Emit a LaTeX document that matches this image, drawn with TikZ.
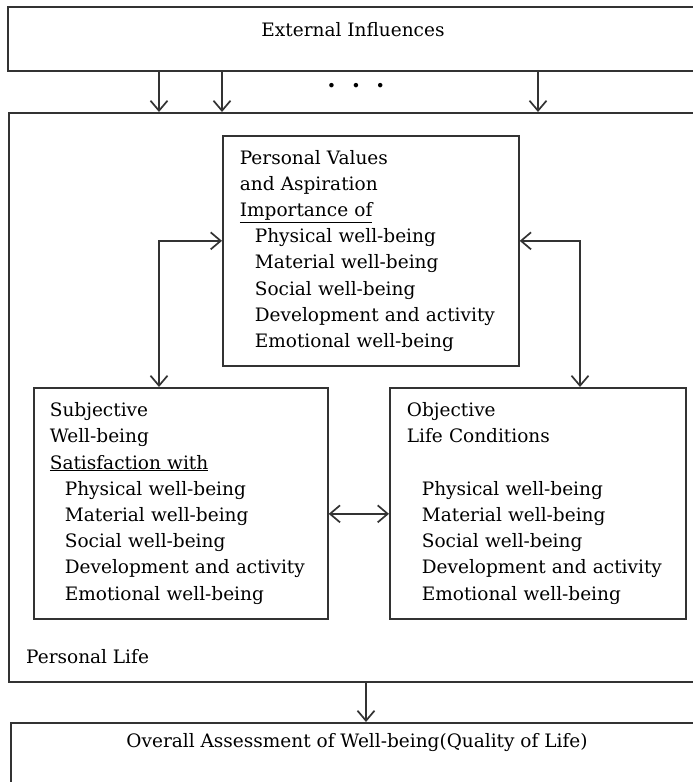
\documentclass[tikz,border=0pt]{standalone}
\usepackage{fontspec}
\setmainfont{DejaVu Serif}
\usetikzlibrary{arrows.meta}
\tikzset{
  ln/.style={draw=black!80, line width=1.7pt},
  bigbox/.style={ln, rectangle, anchor=north west, inner sep=0pt},
  txtbox/.style={ln, rectangle, anchor=north west, align=left, inner xsep=17pt, inner ysep=0pt,
     text width=262pt, font=\fontsize{18.5}{26.2}\selectfont},
  lbl/.style={inner sep=0pt, font=\fontsize{18.5}{26}\selectfont},
  arr/.style={ln, -{Straight Barb[length=10pt,width=17pt,line width=1.7pt]}},
  darr/.style={ln, {Straight Barb[length=10pt,width=17pt,line width=1.7pt]}-{Straight Barb[length=10pt,width=17pt,line width=1.7pt]}},
}
\newcommand{\ind}{\hspace*{15pt}}
\begin{document}
\begin{tikzpicture}[x=1pt,y=-1pt]
\clip (0,0) rectangle (693,782);
\fill[white] (0,0) rectangle (693,782);
% outer boxes
\node[bigbox, minimum width=730pt, minimum height=64pt] (ext) at (7,6) {};
\node[lbl] (extt) at (353,30) {External Influences};
\node[bigbox, minimum width=730pt, minimum height=569pt] (pl) at (8,112) {};
\node[lbl, anchor=west] (plt) at (26,657) {Personal Life};
\node[bigbox, minimum width=730pt, minimum height=90pt] (bot) at (10,722) {};
\node[lbl] (bott) at (357,743) {Overall Assessment of Well-being(Quality of Life)};
% inner boxes
\node[txtbox, minimum width=295pt, minimum height=230pt] (pv) at (222,135) {%
Personal Values\\and Aspiration\\\underline{Importance of}\\
\ind Physical well-being\\\ind Material well-being\\\ind Social well-being\\
\ind Development and activity\\\ind Emotional well-being};
\node[txtbox, inner xsep=16pt, minimum width=294pt, minimum height=231pt] (sw) at (33,387) {%
Subjective\\Well-being\\\underline{Satisfaction with}\\
\ind Physical well-being\\\ind Material well-being\\\ind Social well-being\\
\ind Development and activity\\\ind Emotional well-being};
\node[txtbox, minimum width=295pt, minimum height=231pt] (ol) at (389,387) {%
Objective\\Life Conditions\\\mbox{}\\
\ind Physical well-being\\\ind Material well-being\\\ind Social well-being\\
\ind Development and activity\\\ind Emotional well-being};
% coordinates
\coordinate (c1) at (159,0);
\coordinate (c2) at (222,0);
\coordinate (c3) at (538,0);
\coordinate (l1) at (159,0);
\coordinate (r1) at (580,0);
\coordinate (m1) at (366,0);
% top arrows
\draw[arr] (ext.south -| c1) -- (pl.north -| c1);
\draw[arr] (ext.south -| c2) -- (pl.north -| c2);
\draw[arr] (ext.south -| c3) -- (pl.north -| c3);
\node[lbl, font=\fontsize{24}{26}\bfseries] (dots) at (356,86) {.\hspace{16pt}.\hspace{16pt}.};
% side connectors
\draw[darr] ([yshift=10pt]pv.west) -| (sw.north -| l1);
\draw[darr] ([yshift=10pt]pv.east) -| (ol.north -| r1);
\draw[darr] ([yshift=-10.5pt]sw.east) -- ([yshift=-10.5pt]ol.west);
% bottom arrow
\draw[arr] (pl.south -| m1) -- (bot.north -| m1);
\end{tikzpicture}
\end{document}
